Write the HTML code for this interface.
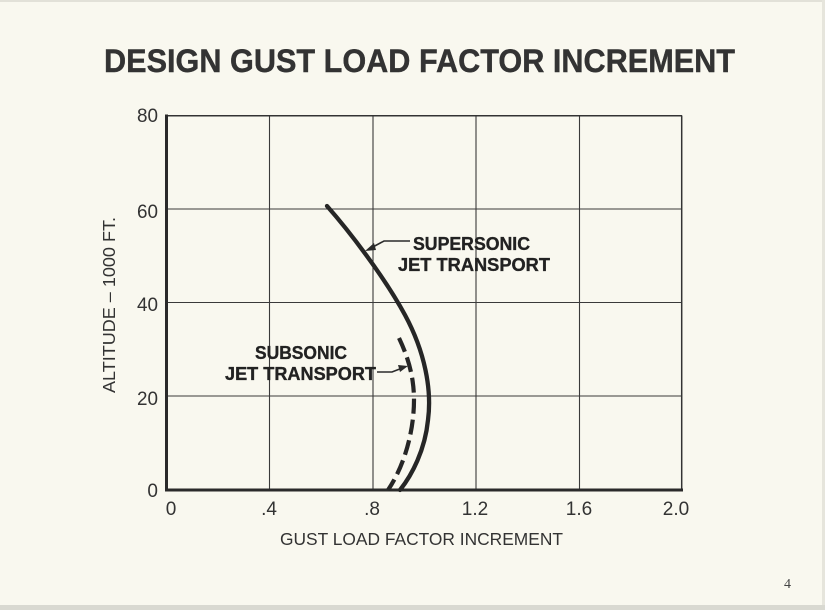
<!DOCTYPE html>
<html>
<head>
<meta charset="utf-8">
<style>
html,body{margin:0;padding:0;background:#f9f8ef;}
svg{display:block;}
</style>
</head>
<body>
<svg width="825" height="610" viewBox="0 0 825 610" xmlns="http://www.w3.org/2000/svg">
  <rect x="0" y="0" width="825" height="610" fill="#f9f8ef"/>
  <rect x="0" y="0" width="825" height="2" fill="#e2e1d8"/>
  <rect x="822" y="0" width="3" height="610" fill="#e6e5dc"/>
  <rect x="0" y="605" width="825" height="5" fill="#d9d9d1"/>

  <!-- Title -->
  <text x="104" y="72" font-family="Liberation Sans, sans-serif" font-weight="bold" font-size="32" fill="#333" stroke="#333" stroke-width="0.4" textLength="631" lengthAdjust="spacingAndGlyphs">DESIGN GUST LOAD FACTOR INCREMENT</text>

  <!-- Grid -->
  <g stroke="#3a3a3a" stroke-width="1.1" fill="none">
    <line x1="269.5" y1="115.5" x2="269.5" y2="490"/>
    <line x1="373" y1="115.5" x2="373" y2="490"/>
    <line x1="476" y1="115.5" x2="476" y2="490"/>
    <line x1="579.5" y1="115.5" x2="579.5" y2="490"/>
    <line x1="166" y1="209" x2="682" y2="209"/>
    <line x1="166" y1="302.5" x2="682" y2="302.5"/>
    <line x1="166" y1="396" x2="682" y2="396"/>
  </g>
  <!-- Frame -->
  <line x1="166" y1="115.7" x2="682" y2="115.7" stroke="#333" stroke-width="1.5"/>
  <line x1="681.7" y1="115.5" x2="681.7" y2="490" stroke="#333" stroke-width="1.5"/>
  <line x1="166.5" y1="114.5" x2="166.5" y2="491.5" stroke="#2a2a2a" stroke-width="3"/>
  <line x1="165" y1="490" x2="683" y2="490" stroke="#2a2a2a" stroke-width="3"/>

  <!-- Y tick labels -->
  <g font-family="Liberation Sans, sans-serif" font-size="19" fill="#333" text-anchor="end">
    <text x="158" y="122" textLength="21" lengthAdjust="spacingAndGlyphs">80</text>
    <text x="158" y="218" textLength="21" lengthAdjust="spacingAndGlyphs">60</text>
    <text x="158" y="311" textLength="21" lengthAdjust="spacingAndGlyphs">40</text>
    <text x="158" y="405" textLength="21" lengthAdjust="spacingAndGlyphs">20</text>
    <text x="158" y="497">0</text>
  </g>
  <!-- X tick labels -->
  <g font-family="Liberation Sans, sans-serif" font-size="19" fill="#333" text-anchor="middle">
    <text x="171" y="515">0</text>
    <text x="269" y="515">.4</text>
    <text x="372" y="515">.8</text>
    <text x="475" y="515">1.2</text>
    <text x="579" y="515">1.6</text>
    <text x="676" y="515">2.0</text>
  </g>

  <!-- Axis titles -->
  <text x="280" y="545" font-family="Liberation Sans, sans-serif" font-size="17.5" fill="#333" textLength="283" lengthAdjust="spacingAndGlyphs">GUST LOAD FACTOR INCREMENT</text>
  <text transform="translate(115,393) rotate(-90)" x="0" y="0" font-family="Liberation Sans, sans-serif" font-size="17.5" fill="#333" textLength="176" lengthAdjust="spacingAndGlyphs">ALTITUDE – 1000 FT.</text>

  <!-- Supersonic curve (solid) -->
  <path d="M327,206 C350,232 385,278 405,315 C425,352 432,390 428,420 C425,450 412,475 400,490" fill="none" stroke="#262626" stroke-width="4.3" stroke-linecap="round"/>
  <!-- Subsonic curve (dashed) -->
  <path d="M399,338 C407,355 414,375 414,400 C414,430 405,465 388,490" fill="none" stroke="#262626" stroke-width="4.2" stroke-dasharray="15 6"/>

  <!-- Leaders -->
  <polyline points="410,241 384,241 371,248" fill="none" stroke="#2b2b2b" stroke-width="1.6"/>
  <polygon points="365,251 374,243 376,250" fill="#2b2b2b"/>
  <polyline points="377,372 392,372 401,368.5" fill="none" stroke="#2b2b2b" stroke-width="1.6"/>
  <polygon points="408,366 398,365 400,372" fill="#2b2b2b"/>

  <!-- Annotations -->
  <g font-family="Liberation Sans, sans-serif" font-weight="bold" font-size="18.5" fill="#222" stroke="#222" stroke-width="0.35">
    <text x="413" y="250" textLength="117" lengthAdjust="spacingAndGlyphs">SUPERSONIC</text>
    <text x="398" y="271" textLength="152" lengthAdjust="spacingAndGlyphs">JET TRANSPORT</text>
    <text x="255" y="359" textLength="92" lengthAdjust="spacingAndGlyphs">SUBSONIC</text>
    <text x="225" y="380" textLength="151" lengthAdjust="spacingAndGlyphs">JET TRANSPORT</text>
  </g>

  <!-- Page number -->
  <text x="784" y="588" font-family="Liberation Serif, serif" font-size="14" fill="#444">4</text>
</svg>
</body>
</html>
